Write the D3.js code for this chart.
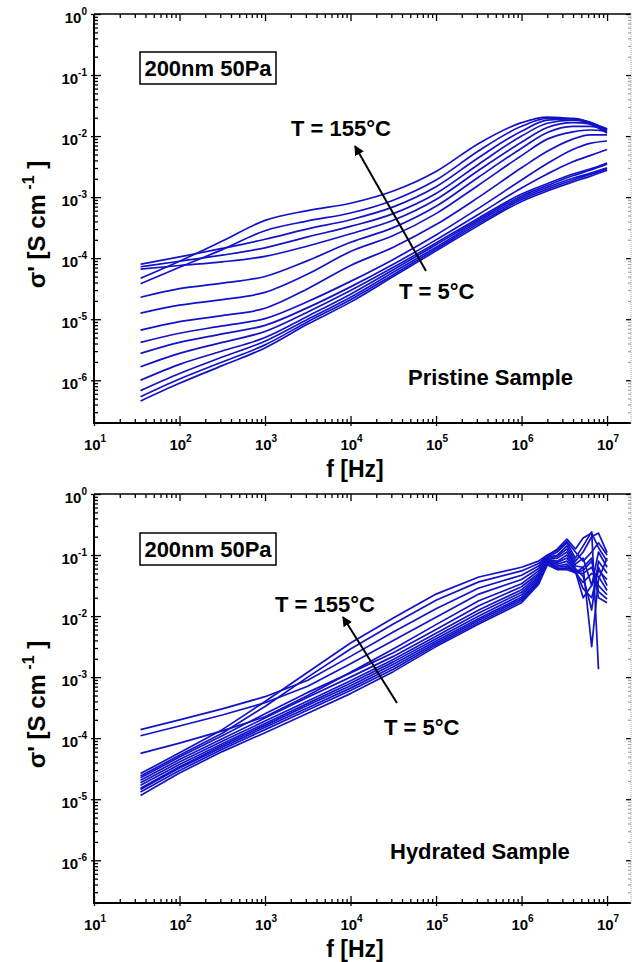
<!DOCTYPE html>
<html>
<head>
<meta charset="utf-8">
<script src="https://cdn.jsdelivr.net/npm/d3@7"></script>
<style>
body { margin: 0; background: #fff; }
svg text { font-family: "Liberation Sans", Arial, sans-serif; font-weight: bold; fill: #000; }
.domain { display: none; }
</style>
</head>
<body>
<div id="chart"></div>
<script>
var freqPristine = [35, 100, 316, 1000, 3162, 1e4, 31623, 1e5, 316228, 1e6, 2e6, 3.98e6, 6.31e6, 1e7];

// log10 of sigma' [S/cm], one row per temperature, hottest first
var pristineLog = [
	[-4.33, -4.05, -3.72, -3.38, -3.22, -3.10, -2.90, -2.58, -2.12, -1.78, -1.69, -1.72, -1.80, -1.95],
	[-4.42, -4.15, -3.86, -3.55, -3.39, -3.26, -3.05, -2.72, -2.24, -1.84, -1.71, -1.71, -1.78, -1.93],
	[-4.10, -3.98, -3.84, -3.69, -3.52, -3.37, -3.16, -2.83, -2.35, -1.92, -1.74, -1.72, -1.77, -1.90],
	[-4.14, -4.05, -3.95, -3.83, -3.65, -3.48, -3.27, -2.94, -2.46, -2.00, -1.79, -1.74, -1.78, -1.89],
	[-4.18, -4.12, -4.06, -3.97, -3.80, -3.60, -3.38, -3.04, -2.56, -2.10, -1.86, -1.78, -1.80, -1.88],
	[-4.64, -4.50, -4.41, -4.30, -4.04, -3.74, -3.50, -3.15, -2.67, -2.20, -1.94, -1.84, -1.84, -1.89],
	[-4.90, -4.77, -4.68, -4.56, -4.26, -3.89, -3.63, -3.27, -2.80, -2.32, -2.05, -1.93, -1.90, -1.92],
	[-5.18, -5.04, -4.94, -4.82, -4.50, -4.12, -3.82, -3.45, -3.00, -2.52, -2.25, -2.05, -1.98, -1.98],
	[-5.38, -5.23, -5.11, -4.99, -4.71, -4.38, -4.02, -3.62, -3.18, -2.72, -2.45, -2.22, -2.12, -2.08],
	[-5.56, -5.38, -5.24, -5.10, -4.81, -4.47, -4.10, -3.70, -3.28, -2.85, -2.62, -2.42, -2.32, -2.22],
	[-5.78, -5.56, -5.38, -5.20, -4.88, -4.53, -4.15, -3.75, -3.34, -2.95, -2.78, -2.62, -2.54, -2.44],
	[-6.00, -5.74, -5.52, -5.30, -4.95, -4.59, -4.19, -3.78, -3.37, -2.98, -2.81, -2.65, -2.56, -2.46],
	[-6.17, -5.89, -5.62, -5.36, -5.00, -4.64, -4.23, -3.82, -3.40, -3.01, -2.84, -2.69, -2.61, -2.52],
	[-6.27, -5.98, -5.70, -5.42, -5.04, -4.68, -4.27, -3.85, -3.43, -3.04, -2.87, -2.72, -2.63, -2.54],
	[-6.34, -6.05, -5.76, -5.47, -5.08, -4.72, -4.30, -3.88, -3.46, -3.07, -2.90, -2.75, -2.66, -2.56]
];

var freqHydrated = [35, 100, 316, 1000, 3162, 1e4, 31623, 1e5, 316228, 1e6, 1.58e6, 2e6, 2.63e6, 3.39e6, 4.27e6, 5.25e6, 6.61e6, 7.94e6, 1e7];

var hydratedLog = [
	[-4.58, -4.24, -3.86, -3.40, -2.92, -2.44, -2.03, -1.64, -1.36, -1.20, -1.10, -1.00, -0.92, -0.78, -0.95, -1.10, -0.95, -0.80, -1.00],
	[-4.62, -4.28, -3.92, -3.48, -3.00, -2.54, -2.13, -1.74, -1.44, -1.26, -1.14, -1.01, -0.90, -0.74, -0.90, -0.72, -0.64, -0.88, -1.10],
	[-3.86, -3.70, -3.52, -3.32, -3.05, -2.66, -2.26, -1.88, -1.54, -1.33, -1.18, -1.03, -0.95, -0.80, -1.05, -0.85, -0.62, -2.87, null],
	[-3.96, -3.80, -3.62, -3.42, -3.15, -2.78, -2.40, -2.02, -1.64, -1.40, -1.22, -1.04, -1.00, -0.85, -1.10, -0.95, -0.70, -0.64, -0.96],
	[-4.25, -4.08, -3.88, -3.65, -3.30, -2.92, -2.54, -2.14, -1.75, -1.47, -1.26, -1.06, -1.02, -0.90, -1.15, -1.05, -1.50, -0.95, -1.20],
	[-4.65, -4.31, -3.96, -3.60, -3.25, -2.93, -2.60, -2.22, -1.83, -1.52, -1.30, -1.07, -1.05, -0.95, -1.18, -1.20, -2.50, -1.40, -1.05],
	[-4.69, -4.35, -4.01, -3.67, -3.33, -3.00, -2.66, -2.28, -1.90, -1.57, -1.33, -1.08, -1.10, -1.00, -1.22, -1.35, -1.90, -1.10, -1.30],
	[-4.73, -4.39, -4.05, -3.72, -3.39, -3.06, -2.71, -2.33, -1.95, -1.61, -1.36, -1.10, -1.12, -1.05, -1.25, -1.55, -1.70, -1.25, -1.40],
	[-4.77, -4.43, -4.09, -3.76, -3.43, -3.10, -2.75, -2.37, -2.00, -1.65, -1.39, -1.11, -1.15, -1.10, -1.27, -1.70, -1.50, -1.20, -1.50],
	[-4.82, -4.47, -4.12, -3.79, -3.46, -3.14, -2.79, -2.41, -2.04, -1.69, -1.42, -1.12, -1.18, -1.15, -1.29, -1.45, -1.30, -1.35, -1.58],
	[-4.84, -4.49, -4.15, -3.82, -3.50, -3.18, -2.83, -2.44, -2.07, -1.72, -1.44, -1.13, -1.20, -1.18, -1.29, -1.30, -1.20, -1.50, -1.65],
	[-4.88, -4.53, -4.18, -3.86, -3.54, -3.22, -2.87, -2.47, -2.10, -1.75, -1.46, -1.15, -1.22, -1.21, -1.29, -1.25, -1.10, -1.60, -1.72],
	[-4.94, -4.57, -4.22, -3.91, -3.59, -3.27, -2.91, -2.50, -2.13, -1.78, -1.48, -1.16, -1.24, -1.24, -1.29, -1.20, -1.05, -1.70, -1.78]
];

var xMajor = [1e1, 1e2, 1e3, 1e4, 1e5, 1e6, 1e7];
var yMajor = [1e-6, 1e-5, 1e-4, 1e-3, 1e-2, 1e-1, 1];

var width = 632, height = 962;
var lineColor = "#1212c8";

var svg = d3.select("#chart").append("svg")
	.attr("width", width)
	.attr("height", height);

// arrow head
svg.append("defs").append("marker")
	.attr("id", "head")
	.attr("viewBox", "0 0 10 10")
	.attr("refX", 9).attr("refY", 5)
	.attr("markerWidth", 5).attr("markerHeight", 5)
	.attr("markerUnits", "strokeWidth")
	.attr("orient", "auto")
	.append("path")
	.attr("d", "M0,0 L10,5 L0,10 z")
	.attr("fill", "#000");

var supLabel = function(sel, exp) {
	sel.append("tspan").text("10");
	sel.append("tspan").text(exp)
		.attr("dy", -8)
		.style("font-size", "10px");
};

var drawPanel = function(p) {
	var x = d3.scaleLog().domain([10, Math.pow(10, 7.28)]).range([94, 631]);
	var y = d3.scaleLog().domain([Math.pow(10, -6.7), 1]).range([p.bottom, p.top]);

	var g = svg.append("g");
	var xMinor = x.ticks().filter(function(t) { return xMajor.indexOf(t) < 0; });
	var yMinor = y.ticks().filter(function(t) { return yMajor.indexOf(t) < 0; });

	// AXIS ticks, all pointing inward
	g.append("g").attr("transform", "translate(0," + p.bottom + ")")
		.call(d3.axisBottom(x).tickValues(xMajor).tickSize(-7).tickFormat(""))
		.selectAll("line").attr("y1", 3);
	g.append("g").attr("transform", "translate(0," + p.bottom + ")")
		.call(d3.axisBottom(x).tickValues(xMinor).tickSize(-4).tickFormat(""));
	g.append("g").attr("transform", "translate(0," + p.top + ")")
		.call(d3.axisTop(x).tickValues(xMajor).tickSize(-7).tickFormat(""));
	g.append("g").attr("transform", "translate(0," + p.top + ")")
		.call(d3.axisTop(x).tickValues(xMinor).tickSize(-4).tickFormat(""));
	g.append("g").attr("transform", "translate(94,0)")
		.call(d3.axisLeft(y).tickValues(yMajor).tickSize(-7).tickFormat(""))
		.selectAll("line").attr("x1", -3);
	g.append("g").attr("transform", "translate(94,0)")
		.call(d3.axisLeft(y).tickValues(yMinor).tickSize(-4).tickFormat(""));
	g.append("g").attr("transform", "translate(631,0)")
		.call(d3.axisLeft(y).tickValues(yMajor).tickSize(5).tickFormat(""));
	g.append("g").attr("transform", "translate(631,0)")
		.call(d3.axisLeft(y).tickValues(yMinor).tickSize(3).tickFormat(""))
		.selectAll("line").attr("stroke", "#aaa");
	g.selectAll(".tick line").attr("stroke-width", 1.3);

	// frame
	g.append("line").attr("x1", 94).attr("x2", 631).attr("y1", p.top).attr("y2", p.top)
		.attr("stroke", "#000").attr("stroke-width", 1.5);
	g.append("line").attr("x1", 94).attr("x2", 94).attr("y1", p.top).attr("y2", p.bottom)
		.attr("stroke", "#000").attr("stroke-width", 2);
	g.append("line").attr("x1", 93).attr("x2", 631).attr("y1", p.bottom).attr("y2", p.bottom)
		.attr("stroke", "#000").attr("stroke-width", 2);
	g.append("line").attr("x1", 631).attr("x2", 631).attr("y1", p.top).attr("y2", p.bottom)
		.attr("stroke", "#aaa").attr("stroke-width", 1).attr("stroke-dasharray", "1,1");

	// tick labels
	xMajor.forEach(function(t) {
		var lab = g.append("text")
			.attr("x", x(t) + 1)
			.attr("y", p.bottom + 27)
			.attr("text-anchor", "middle")
			.style("font-size", "15px");
		supLabel(lab, String(Math.round(Math.log10(t))));
	});
	yMajor.forEach(function(t) {
		var lab = g.append("text")
			.attr("x", 87)
			.attr("y", y(t) + 9)
			.attr("text-anchor", "end")
			.style("font-size", "15px");
		supLabel(lab, String(Math.round(Math.log10(t))));
	});

	// AXIS LABELS
	g.append("text")
		.attr("x", 355)
		.attr("y", p.bottom + 54)
		.attr("text-anchor", "middle")
		.style("font-size", "23px")
		.text("f [Hz]");

	var yl = g.append("text")
		.attr("transform", "translate(45," + ((p.top + p.bottom) / 2 + 6) + ") rotate(-90)")
		.attr("text-anchor", "middle")
		.style("font-size", "24px");
	yl.append("tspan").text("\u03c3' [S cm");
	yl.append("tspan").text(" -1").attr("dy", -11).style("font-size", "16px");
	yl.append("tspan").text(" ]").attr("dy", 11);

	// curves
	var line = d3.line()
		.defined(function(d) { return d[1] != null; })
		.x(function(d) { return x(d[0]); })
		.y(function(d) { return y(Math.pow(10, d[1])); })
		.curve(p.curve);

	g.selectAll("path.curve")
		.data(p.curves)
		.enter().append("path")
		.attr("class", "curve")
		.attr("fill", "none")
		.attr("stroke", lineColor)
		.attr("stroke-width", 1.7)
		.attr("stroke-linejoin", "round")
		.attr("d", function(row) {
			return line(row.map(function(v, i) { return [p.freq[i], v]; }));
		});

	// box label
	g.append("text")
		.attr("x", p.boxX + 68)
		.attr("y", p.boxY + 24)
		.attr("text-anchor", "middle")
		.style("font-size", "22px")
		.text("200nm 50Pa");
	g.append("rect")
		.attr("x", p.boxX).attr("y", p.boxY)
		.attr("width", 136).attr("height", 32)
		.attr("fill", "none").attr("stroke", "#000").attr("stroke-width", 1.5);

	// arrow + temperatures
	g.append("line")
		.attr("x1", p.arrow[0]).attr("y1", p.arrow[1])
		.attr("x2", p.arrow[2]).attr("y2", p.arrow[3])
		.attr("stroke", "#000").attr("stroke-width", 2)
		.attr("marker-end", "url(#head)");
	g.append("text").attr("x", p.hotLabel[0]).attr("y", p.hotLabel[1])
		.style("font-size", "22px").text("T = 155\u00b0C");
	g.append("text").attr("x", p.coldLabel[0]).attr("y", p.coldLabel[1])
		.style("font-size", "22px").text("T = 5\u00b0C");
	g.append("text").attr("x", p.sample[0]).attr("y", p.sample[1])
		.style("font-size", "22px").text(p.sampleText);
};

drawPanel({
	top: 14, bottom: 423,
	freq: freqPristine, curves: pristineLog, curve: d3.curveMonotoneX,
	boxX: 140, boxY: 52,
	arrow: [426, 271, 355, 146],
	hotLabel: [291, 136], coldLabel: [399, 299],
	sample: [408, 385], sampleText: "Pristine Sample"
});

drawPanel({
	top: 494, bottom: 903,
	freq: freqHydrated, curves: hydratedLog, curve: d3.curveLinear,
	boxX: 140, boxY: 533,
	arrow: [397, 703, 343, 617],
	hotLabel: [275, 612], coldLabel: [384, 735],
	sample: [390, 859], sampleText: "Hydrated Sample"
});
</script>
</body>
</html>
